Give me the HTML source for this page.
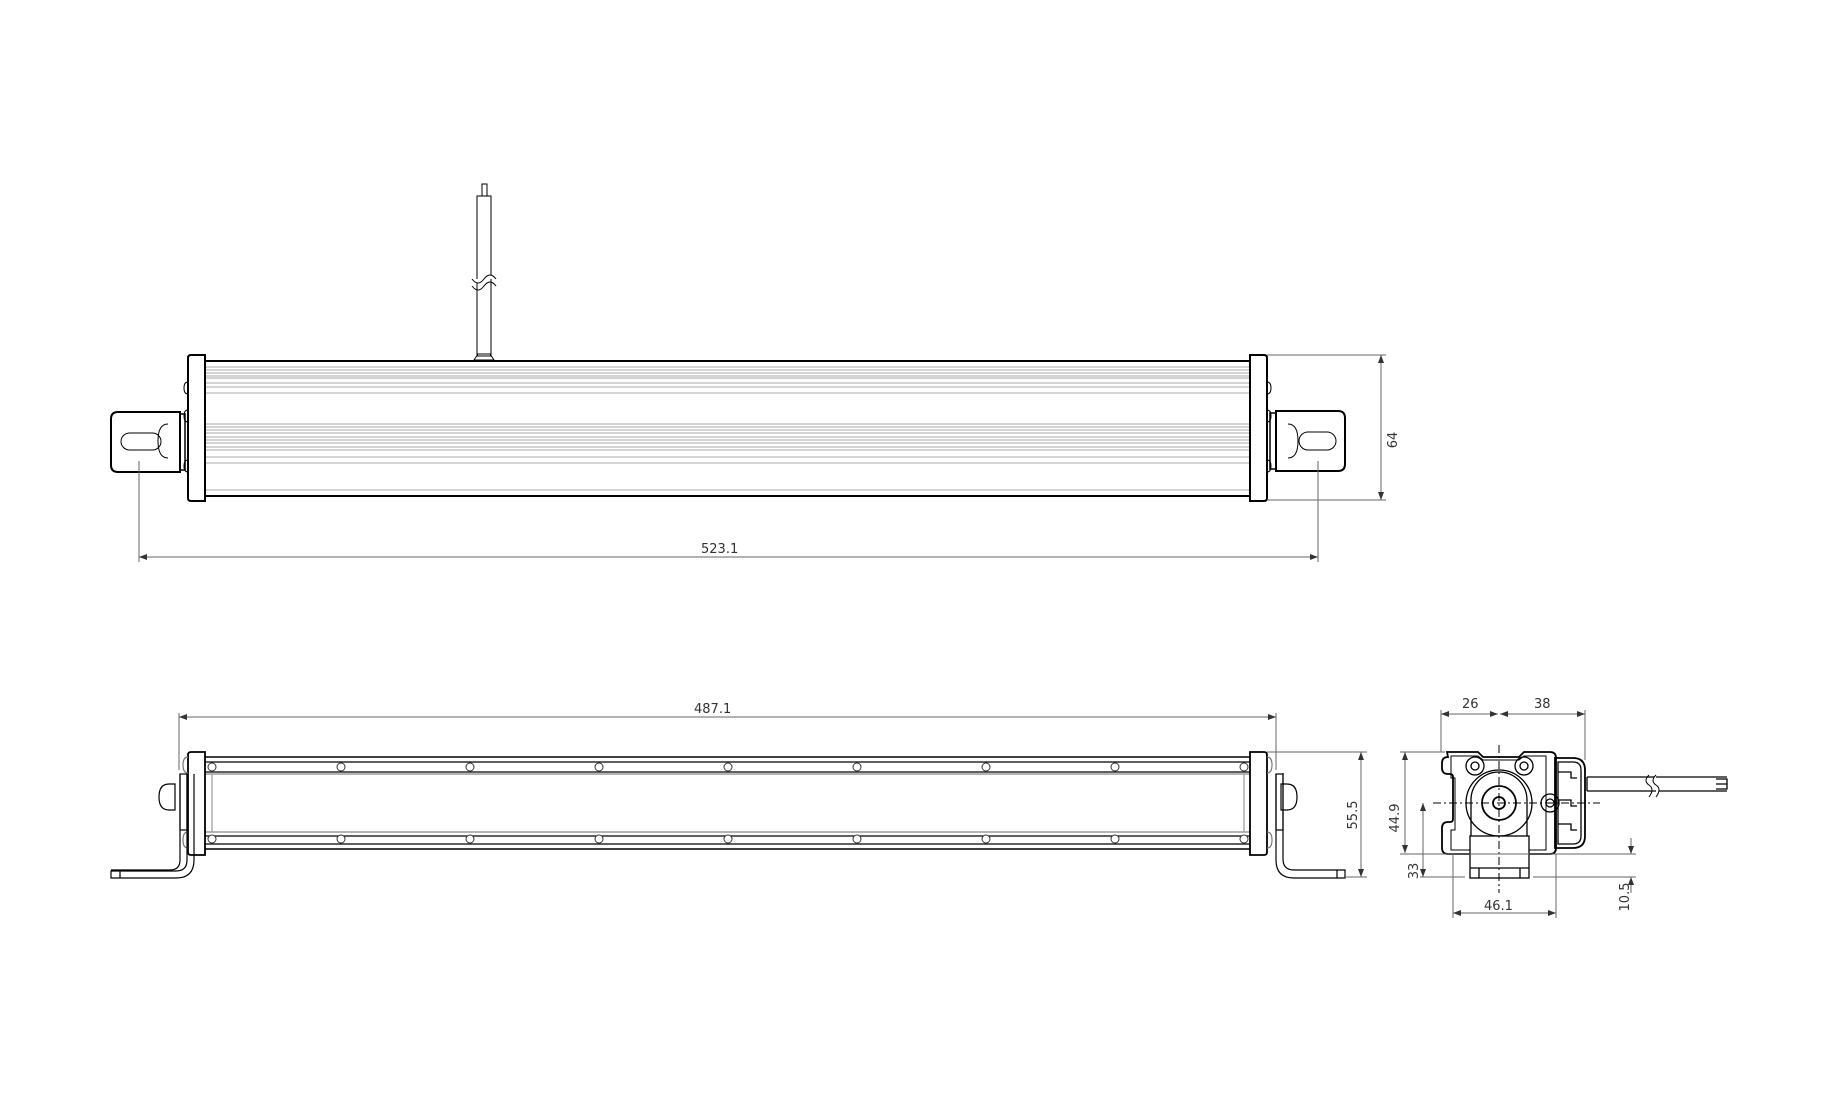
<!DOCTYPE html>
<html><head><style>html,body{margin:0;padding:0;background:#fff}svg{display:block}text{font-family:"DejaVu Sans","Liberation Sans",sans-serif;font-size:13px;fill:#333}</style></head>
<body>
<svg width="1840" height="1100" viewBox="0 0 1840 1100" xmlns="http://www.w3.org/2000/svg">
<defs>
<marker id="a" markerWidth="8" markerHeight="6" refX="8" refY="3" orient="auto-start-reverse" markerUnits="userSpaceOnUse"><path d="M0,0 L8,3 L0,6z" fill="#333"/></marker>
</defs>
<g fill="none" stroke="#000">
<rect x="482" y="184" width="5" height="12" stroke-width="1"/>
<rect x="477" y="196" width="14" height="160" stroke-width="1"/>
<path d="M472,279 q6,8 12,0 q6,-8 12,0" stroke-width="1" fill="#fff"/>
<path d="M472,286 q6,8 12,0 q6,-8 12,0" stroke-width="1"/>
<path d="M474,360 l4,-6 h12 l4,6z" stroke-width="1"/>
<rect x="205" y="361" width="1045" height="135" stroke-width="2"/>
<g stroke="#aaa" stroke-width="1">
<line x1="205" y1="367" x2="1250" y2="367"/><line x1="205" y1="370" x2="1250" y2="370"/><line x1="205" y1="373" x2="1250" y2="373"/><line x1="205" y1="376" x2="1250" y2="376"/><line x1="205" y1="378" x2="1250" y2="378"/><line x1="205" y1="383" x2="1250" y2="383"/><line x1="205" y1="387" x2="1250" y2="387"/><line x1="205" y1="393" x2="1250" y2="393"/>
<line x1="205" y1="424" x2="1250" y2="424"/><line x1="205" y1="427" x2="1250" y2="427"/><line x1="205" y1="430" x2="1250" y2="430"/><line x1="205" y1="433" x2="1250" y2="433"/><line x1="205" y1="437" x2="1250" y2="437"/><line x1="205" y1="440" x2="1250" y2="440"/><line x1="205" y1="443" x2="1250" y2="443"/><line x1="205" y1="447" x2="1250" y2="447"/><line x1="205" y1="450" x2="1250" y2="450"/><line x1="205" y1="457" x2="1250" y2="457"/><line x1="205" y1="463" x2="1250" y2="463"/><line x1="205" y1="490" x2="1250" y2="490"/>
</g>
<path d="M191,355 h14 v146 h-14 q-3,0 -3,-3 v-140 q0,-3 3,-3z" stroke-width="2"/>
<path d="M1264,355 h-14 v146 h14 q3,0 3,-3 v-140 q0,-3 -3,-3z" stroke-width="2"/>
<path d="M188,382 q-4,0 -4,6 q0,6 4,6 M188,410 q-4,0 -4,6 q0,6 4,6 M188,460 q-4,0 -4,6 q0,6 4,6" stroke-width="1"/>
<path d="M1267,382 q4,0 4,6 q0,6 -4,6 M1267,410 q4,0 4,6 q0,6 -4,6 M1267,460 q4,0 4,6 q0,6 -4,6" stroke-width="1"/>
<path d="M180,412 h-62 q-7,0 -7,7 v46 q0,7 7,7 h62z" stroke-width="2"/>
<rect x="180" y="414" width="5" height="56" stroke-width="1.5"/>
<path d="M168,424 q-10,0 -10,17 q0,17 10,17" stroke-width="1"/>
<rect x="121" y="433" width="40" height="17" rx="8.5" stroke-width="1"/>
<path d="M1276,411 h62 q7,0 7,7 v46 q0,7 -7,7 h-62z" stroke-width="2"/>
<rect x="1270" y="413" width="6" height="56" stroke-width="1.5"/>
<path d="M1288,424 q10,0 10,17 q0,17 -10,17" stroke-width="1"/>
<rect x="1299" y="432" width="37" height="18" rx="9" stroke-width="1"/>
</g>
<g stroke="#666" stroke-width="1" fill="none">
<line x1="139" y1="461" x2="139" y2="562"/>
<line x1="1318" y1="461" x2="1318" y2="562"/>
<line x1="139" y1="557" x2="1318" y2="557" marker-start="url(#a)" marker-end="url(#a)"/>
<line x1="1267" y1="355" x2="1386" y2="355"/>
<line x1="1267" y1="500" x2="1386" y2="500"/>
<line x1="1381" y1="355" x2="1381" y2="500" marker-start="url(#a)" marker-end="url(#a)"/>
</g>
<text x="701" y="553">523.1</text>
<text transform="translate(1397,440) rotate(-90)" text-anchor="middle">64</text>

<g fill="none" stroke="#000" stroke-width="1.2">
<line x1="205" y1="757" x2="1250" y2="757" stroke-width="1.5"/>
<line x1="205" y1="762" x2="1250" y2="762"/>
<line x1="205" y1="772" x2="1250" y2="772"/>
<line x1="205" y1="774" x2="1250" y2="774" stroke="#888"/>
<line x1="205" y1="832" x2="1250" y2="832" stroke="#888"/>
<line x1="205" y1="836" x2="1250" y2="836"/>
<line x1="205" y1="844" x2="1250" y2="844"/>
<line x1="205" y1="849" x2="1250" y2="849" stroke-width="1.5"/>
<line x1="212" y1="774" x2="212" y2="832" stroke="#999"/>
<line x1="1244" y1="774" x2="1244" y2="832" stroke="#999"/>
<path d="M191,752 h14 v103 h-14 q-3,0 -3,-3 v-97 q0,-3 3,-3z" stroke-width="1.8"/>
<path d="M1264,752 h-14 v103 h14 q3,0 3,-3 v-97 q0,-3 -3,-3z" stroke-width="1.8"/>
<path d="M188,757 q-5,0 -5,8 q0,8 5,8 M188,832 q-5,0 -5,8 q0,8 5,8" stroke="#777"/>
<path d="M1267,757 q5,0 5,8 q0,8 -5,8 M1267,832 q5,0 5,8 q0,8 -5,8" stroke="#777"/>
<path d="M187,774 v86 q0,11 -11,11 h-65 v7 h65 q18,0 18,-18 v-86" />
<path d="M180,774 v86 q0,10 -10,10 h-59" />
<rect x="180" y="774" width="7" height="56"/>
<path d="M169,784 q-10,0 -10,13 q0,13 10,13 h6 v-26z"/>
<line x1="120" y1="870" x2="120" y2="878"/>
<rect x="1276" y="774" width="7" height="56"/>
<path d="M1276,774 v86 q0,18 18,18 h51 v-8 h-51 q-11,0 -11,-11 v-86"/>
<path d="M1287,784 q10,0 10,13 q0,13 -10,13 h-6 v-26z"/>
<line x1="1337" y1="870" x2="1337" y2="878"/>
</g>
<g fill="#fff" stroke="#333" stroke-width="1">
<circle cx="212" cy="767" r="4"/><circle cx="341" cy="767" r="4"/><circle cx="470" cy="767" r="4"/><circle cx="599" cy="767" r="4"/><circle cx="728" cy="767" r="4"/><circle cx="857" cy="767" r="4"/><circle cx="986" cy="767" r="4"/><circle cx="1115" cy="767" r="4"/><circle cx="1244" cy="767" r="4"/>
<circle cx="212" cy="839" r="4"/><circle cx="341" cy="839" r="4"/><circle cx="470" cy="839" r="4"/><circle cx="599" cy="839" r="4"/><circle cx="728" cy="839" r="4"/><circle cx="857" cy="839" r="4"/><circle cx="986" cy="839" r="4"/><circle cx="1115" cy="839" r="4"/><circle cx="1244" cy="839" r="4"/>
</g>
<g stroke="#666" stroke-width="1" fill="none">
<line x1="179" y1="713" x2="179" y2="770"/>
<line x1="1276" y1="713" x2="1276" y2="770"/>
<line x1="179" y1="717" x2="1276" y2="717" marker-start="url(#a)" marker-end="url(#a)"/>
<line x1="1267" y1="752" x2="1367" y2="752"/>
<line x1="1345" y1="877" x2="1367" y2="877"/>
<line x1="1361" y1="752" x2="1361" y2="877" marker-start="url(#a)" marker-end="url(#a)"/>
</g>
<text x="694" y="713">487.1</text>
<text transform="translate(1357,815) rotate(-90)" text-anchor="middle">55.5</text>

<g fill="none" stroke="#000" stroke-width="1.3">
<path d="M1447,752 h31 l5,5 h36 l5,-5 h26 q6,0 6,6 v90 q0,6 -6,6 h-102 q-6,0 -6,-6 v-20 q0,-6 6,-6 h2 q3,0 3,-3 v-42 q0,-3 -3,-3 h-2 q-6,0 -6,-6 v-5 q0,-6 6,-6z" stroke-width="1.8"/>
<path d="M1451,756 h27 l5,4 h36 l5,-4 h22 v94 h-95 v-20 h4 v-52 h-4z" stroke-width="1"/>
<path d="M1555,758 h18 q12,0 12,12 v66 q0,12 -12,12 h-18z" stroke-width="1.8"/>
<path d="M1558,762 h15 q8,0 8,8 v66 q0,8 -8,8 h-15z"/>
<path d="M1558,772 h13 v6 h6 M1558,800 h13 v6 h6 M1558,824 h13 v6 h6"/>
<path d="M1471,836 v-36 a28,28 0 0 1 56,0 v36" />
<circle cx="1499" cy="803" r="33"/>
<circle cx="1499" cy="803" r="17" stroke-width="1.8"/>
<circle cx="1499" cy="803" r="6" stroke-width="1.8"/>
<circle cx="1475" cy="766" r="9"/><circle cx="1475" cy="766" r="4"/>
<circle cx="1524" cy="766" r="9"/><circle cx="1524" cy="766" r="4"/>
<circle cx="1550" cy="803" r="9"/><circle cx="1550" cy="803" r="4"/>
<rect x="1470" y="836" width="59" height="42" fill="#fff"/>
<line x1="1470" y1="868" x2="1529" y2="868"/>
<line x1="1479" y1="868" x2="1479" y2="878"/><line x1="1520" y1="868" x2="1520" y2="878"/>
<line x1="1587" y1="777" x2="1727" y2="777"/><line x1="1587" y1="791" x2="1727" y2="791"/>
<line x1="1587" y1="777" x2="1587" y2="791"/>
<path d="M1716,779 h11 v5 h-11 M1716,784 h11 v5 h-11"/>
<path d="M1656,775 q-6,6 0,10 q6,4 0,12" stroke-width="1" fill="#fff"/>
<path d="M1649,775 q-6,6 0,10 q6,4 0,12" stroke-width="1"/>
</g>
<g stroke="#000" stroke-width="1" stroke-dasharray="8,3,2,3" fill="none">
<line x1="1499" y1="745" x2="1499" y2="893"/>
<line x1="1433" y1="803" x2="1600" y2="803"/>
</g>
<g stroke="#666" stroke-width="1" fill="none">
<line x1="1441" y1="710" x2="1441" y2="752"/>
<line x1="1585" y1="710" x2="1585" y2="760"/>
<line x1="1441" y1="714" x2="1498" y2="714" marker-start="url(#a)" marker-end="url(#a)"/>
<line x1="1500" y1="714" x2="1585" y2="714" marker-start="url(#a)" marker-end="url(#a)"/>
<line x1="1400" y1="752" x2="1445" y2="752"/>
<line x1="1405" y1="752" x2="1405" y2="853" marker-start="url(#a)" marker-end="url(#a)"/>
<line x1="1400" y1="854" x2="1636" y2="854"/>
<line x1="1420" y1="877" x2="1465" y2="877"/>
<line x1="1533" y1="877" x2="1636" y2="877"/>
<line x1="1423" y1="803" x2="1423" y2="877" marker-start="url(#a)" marker-end="url(#a)"/>
<line x1="1453" y1="854" x2="1453" y2="918"/>
<line x1="1556" y1="854" x2="1556" y2="918"/>
<line x1="1453" y1="913" x2="1556" y2="913" marker-start="url(#a)" marker-end="url(#a)"/>
<line x1="1631" y1="838" x2="1631" y2="854" marker-end="url(#a)"/>
<line x1="1631" y1="893" x2="1631" y2="877" marker-end="url(#a)"/>
</g>
<text x="1462" y="708">26</text>
<text x="1534" y="708">38</text>
<text transform="translate(1399,818) rotate(-90)" text-anchor="middle">44.9</text>
<text transform="translate(1418,871) rotate(-90)" text-anchor="middle">33</text>
<text x="1484" y="910">46.1</text>
<text transform="translate(1629,897) rotate(-90)" text-anchor="middle">10.5</text>
</svg>
</body></html>
